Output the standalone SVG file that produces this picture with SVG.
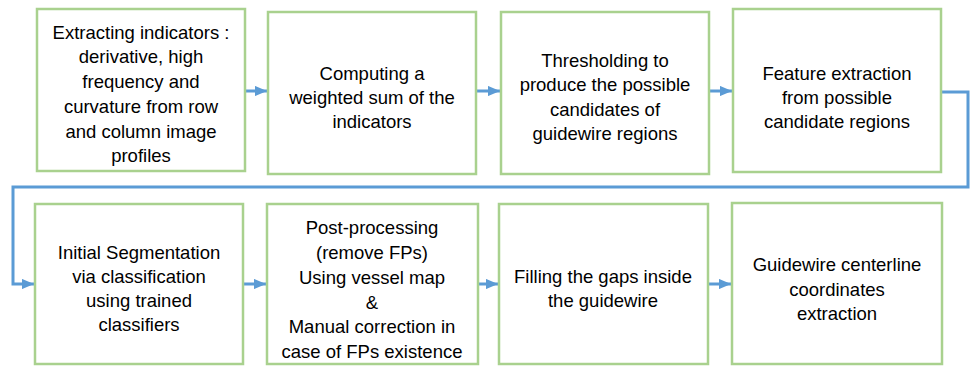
<svg xmlns="http://www.w3.org/2000/svg" width="970" height="366" viewBox="0 0 970 366">
<style>
.box{fill:#fff;stroke:#A9D18E;stroke-width:2.5}
.t{font-family:"Liberation Sans",Arial,sans-serif;font-size:18.5px;fill:#000;text-anchor:middle}
.c{fill:none;stroke:#5B9BD5;stroke-width:3}
</style>
<defs>
<marker id="ah" markerWidth="4" markerHeight="3.4" refX="4" refY="1.7" orient="auto" markerUnits="strokeWidth">
<path d="M0,0 L4,1.7 L0,3.4 z" fill="#5B9BD5"/>
</marker>
</defs>
<rect width="970" height="366" fill="#fff"/>
<g id="connectors">
<line class="c" x1="245" y1="91" x2="267" y2="91" marker-end="url(#ah)"/>
<line class="c" x1="476" y1="91" x2="500" y2="91" marker-end="url(#ah)"/>
<line class="c" x1="709" y1="91" x2="732" y2="91" marker-end="url(#ah)"/>
<polyline class="c" points="941,92 968,92 968,187 13,187 13,284 34,284" marker-end="url(#ah)"/>
<line class="c" x1="243" y1="284" x2="266" y2="284" marker-end="url(#ah)"/>
<line class="c" x1="478" y1="284" x2="498" y2="284" marker-end="url(#ah)"/>
<line class="c" x1="708" y1="284" x2="731" y2="284" marker-end="url(#ah)"/>
</g>
<g id="n1"><rect class="box" x="37" y="9" width="208" height="162"/>
<text class="t"><tspan x="141" y="39">Extracting indicators :</tspan><tspan x="141" y="63">derivative, high</tspan><tspan x="141" y="88">frequency and</tspan><tspan x="141" y="113">curvature from row</tspan><tspan x="141" y="138">and column image</tspan><tspan x="141" y="162">profiles</tspan></text></g>
<g id="n2"><rect class="box" x="268" y="12" width="208" height="162"/>
<text class="t"><tspan x="372" y="80">Computing a</tspan><tspan x="372" y="104">weighted sum of the</tspan><tspan x="372" y="128">indicators</tspan></text></g>
<g id="n3"><rect class="box" x="501" y="12" width="208" height="162"/>
<text class="t"><tspan x="605" y="67">Thresholding to</tspan><tspan x="605" y="91">produce the possible</tspan><tspan x="605" y="116">candidates of</tspan><tspan x="605" y="140">guidewire regions</tspan></text></g>
<g id="n4"><rect class="box" x="733" y="9" width="208" height="163"/>
<text class="t"><tspan x="837" y="80">Feature extraction</tspan><tspan x="837" y="104">from possible</tspan><tspan x="837" y="128">candidate regions</tspan></text></g>
<g id="n5"><rect class="box" x="35" y="204" width="208" height="160"/>
<text class="t"><tspan x="139" y="259">Initial Segmentation</tspan><tspan x="139" y="283">via classification</tspan><tspan x="139" y="307">using trained</tspan><tspan x="139" y="331">classifiers</tspan></text></g>
<g id="n6"><rect class="box" x="267" y="204" width="211" height="160"/>
<text class="t"><tspan x="372" y="234">Post-processing</tspan><tspan x="372" y="259">(remove FPs)</tspan><tspan x="372" y="284">Using vessel map</tspan><tspan x="372" y="309">&amp;</tspan><tspan x="372" y="333">Manual correction in</tspan><tspan x="372" y="358">case of FPs existence</tspan></text></g>
<g id="n7"><rect class="box" x="499" y="204" width="209" height="160"/>
<text class="t"><tspan x="603" y="283">Filling the gaps inside</tspan><tspan x="603" y="307">the guidewire</tspan></text></g>
<g id="n8"><rect class="box" x="732" y="203" width="210" height="161"/>
<text class="t"><tspan x="837" y="271">Guidewire centerline</tspan><tspan x="837" y="296">coordinates</tspan><tspan x="837" y="320">extraction</tspan></text></g>
</svg>
